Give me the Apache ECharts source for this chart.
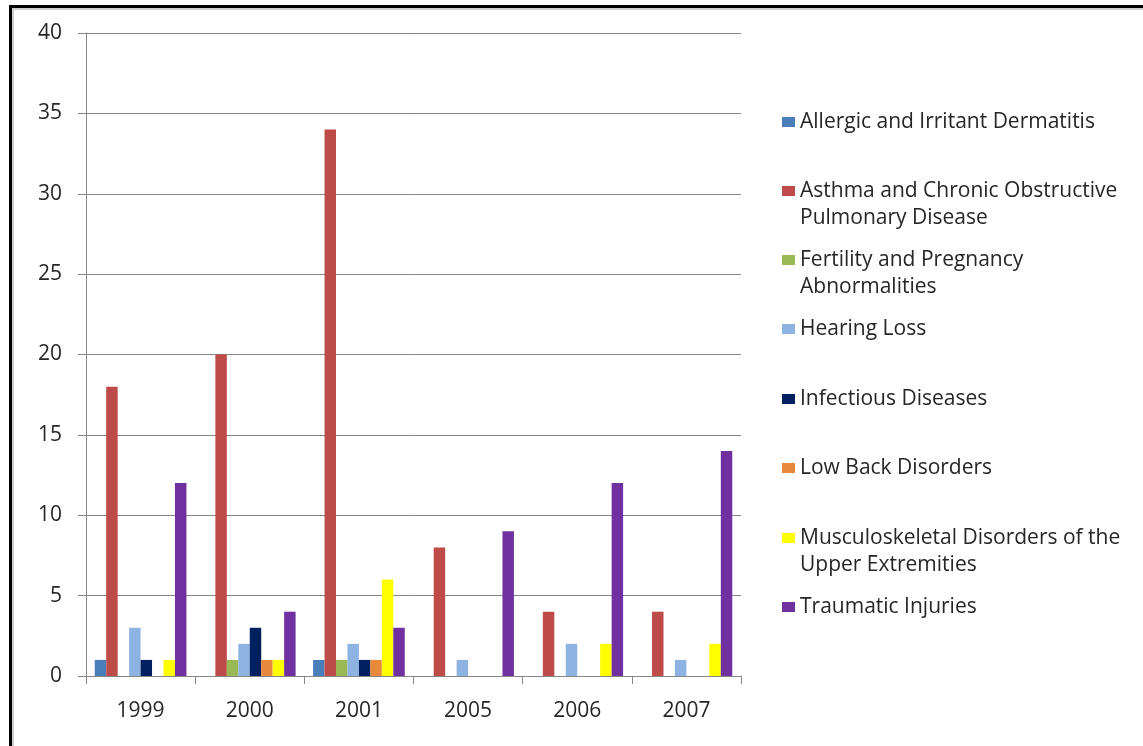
<!DOCTYPE html>
<html>
<head>
<meta charset="utf-8">
<script src="https://cdn.jsdelivr.net/npm/echarts@6/dist/echarts.min.js"></script>
<style>html,body{margin:0;padding:0;background:#fff}#c{width:1143px;height:746px}</style>
</head>
<body>
<div id="c"></div>
<script>
const categories = ['1999', '2000', '2001', '2005', '2006', '2007'];
const seriesNames = [
  'Allergic and Irritant Dermatitis',
  'Asthma and Chronic Obstructive Pulmonary Disease',
  'Fertility and Pregnancy Abnormalities',
  'Hearing Loss',
  'Infectious Diseases',
  'Low Back Disorders',
  'Musculoskeletal Disorders of the Upper Extremities',
  'Traumatic Injuries'
];
const legendLabels = [
  'Allergic and Irritant Dermatitis',
  'Asthma and Chronic Obstructive\nPulmonary Disease',
  'Fertility and Pregnancy\nAbnormalities',
  'Hearing Loss',
  'Infectious Diseases',
  'Low Back Disorders',
  'Musculoskeletal Disorders of the\nUpper Extremities',
  'Traumatic Injuries'
];
const allergic    = [1, 0, 1, 0, 0, 0];
const asthma      = [18, 20, 34, 8, 4, 4];
const fertility   = [0, 1, 1, 0, 0, 0];
const hearing     = [3, 2, 2, 1, 2, 1];
const infectious  = [1, 3, 1, 0, 0, 0];
const lowBack     = [0, 1, 1, 0, 0, 0];
const musculo     = [1, 1, 6, 0, 2, 2];
const traumatic   = [12, 4, 3, 9, 12, 14];
const yTicks = [0, 5, 10, 15, 20, 25, 30, 35, 40];

const values = [allergic, asthma, fertility, hearing, infectious, lowBack, musculo, traumatic];
const colors = ['#4A7EBB', '#BE4B48', '#98B954', '#8DB3E2', '#002060', '#E8883A', '#FFFF00', '#7030A0'];

const FONT = '"Open Sans"';
const FS = 21;
const LH = 27;
const legendFirstLineY = [122, 191, 260, 329, 399, 468, 538, 607];

const legends = seriesNames.map((n, i) => {
  const twoLine = legendLabels[i].indexOf('\n') >= 0;
  return {
    orient: 'vertical',
    left: 782,
    top: legendFirstLineY[i] - LH / 2,
    padding: 0,
    itemWidth: 13,
    itemHeight: twoLine ? 10 + LH : 10,
    icon: twoLine ? 'path://M0,0H13V10H0Z M0,37H13' : 'rect',
    itemGap: 0,
    selectedMode: false,
    data: [n],
    formatter: () => legendLabels[i],
    textStyle: { fontFamily: FONT, fontSize: FS, color: '#262626', lineHeight: LH }
  };
});

const chart = echarts.init(document.getElementById('c'));
chart.setOption({
  backgroundColor: '#fff',
  animation: false,
  color: colors,
  legend: legends,
  grid: { left: 86, right: 402, top: 33, bottom: 70, containLabel: false },
  xAxis: {
    type: 'category',
    data: categories,
    axisLine: { lineStyle: { color: '#868686', width: 1 } },
    axisTick: { show: true, length: 8, alignWithLabel: false, lineStyle: { color: '#868686' } },
    axisLabel: { fontFamily: FONT, fontSize: FS, color: '#262626', margin: 25 }
  },
  yAxis: {
    type: 'value',
    min: yTicks[0], max: yTicks[yTicks.length - 1], interval: 5,
    axisLine: { show: true, lineStyle: { color: '#868686', width: 1 } },
    axisTick: { show: true, length: 8, lineStyle: { color: '#868686' } },
    splitLine: { show: true, lineStyle: { color: '#868686', width: 1 } },
    axisLabel: { fontFamily: FONT, fontSize: FS, color: '#262626', margin: 24 }
  },
  series: seriesNames.map((n, i) => ({
    name: n,
    type: 'bar',
    data: values[i],
    barGap: '0%',
    barCategoryGap: '16%',
    itemStyle: { color: colors[i] }
  })),
  graphic: [
    { type: 'rect', shape: { x: 9, y: 5, width: 1134, height: 3 }, style: { fill: '#000' }, silent: true },
    { type: 'rect', shape: { x: 9, y: 5, width: 3, height: 741 }, style: { fill: '#000' }, silent: true },
    { type: 'rect', shape: { x: 12, y: 8, width: 1131, height: 2 }, style: { fill: '#cfcfcf' }, silent: true },
    { type: 'rect', shape: { x: 12, y: 8, width: 2, height: 738 }, style: { fill: '#cfcfcf' }, silent: true }
  ]
});
</script>
</body>
</html>
